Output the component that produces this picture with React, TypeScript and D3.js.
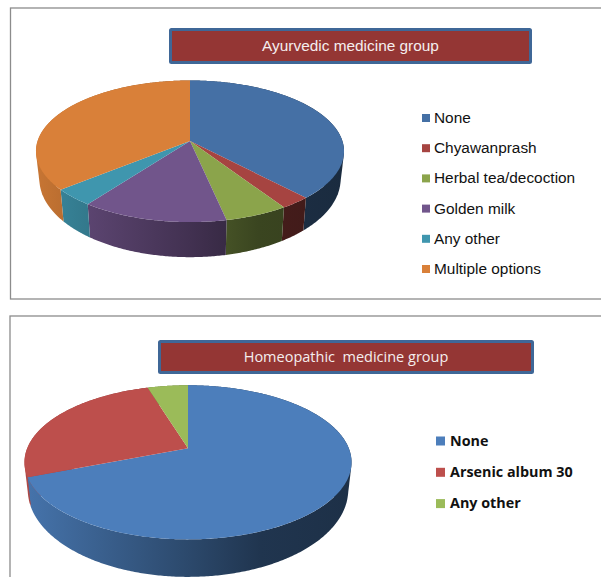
import React from "react";
import * as d3 from "d3";

// Ayurvedic pie
const ayurCategories = ["None", "Chyawanprash", "Herbal tea/decoction", "Golden milk", "Any other", "Multiple options"];
const ayurValues = [38.1, 2.8, 5.8, 13.4, 3.9, 36.0];
const ayurColors = ["#4570a5", "#a64441", "#8ba44b", "#71558b", "#3f96ae", "#d98039"];

// Homeopathic pie
const homeoCategories = ["None", "Arsenic album 30", "Any other"];
const homeoValues = [69.1, 26.15, 4.75];
const homeoColors = ["#4c7ebb", "#bd4f4c", "#9bbb59"];

const ayurTitle = "Ayurvedic medicine group";
const homeoTitle = "Homeopathic  medicine group";

// Wall shading: brightness multiplier from the left to the right of the pie.
const wallShade: [number, number][] = [[0, 0.92], [0.5, 0.58], [0.72, 0.42], [1, 0.38]];

interface Disc { cx: number; cy: number; a: number; b: number; k: number }

// Perspective projection of a unit circle: angle runs clockwise from twelve o'clock.
function project(d: Disc, angle: number): [number, number] {
  const X = Math.sin(angle);
  const Y = -Math.cos(angle);
  const w = 1 - d.k * Y;
  return [d.cx + (d.a * X) / w, d.cy + (d.b * Y) / w];
}

function rim(d: Disc, a0: number, a1: number): [number, number][] {
  const n = Math.max(2, Math.ceil(Math.abs(a1 - a0) / 0.01));
  return d3.range(n + 1).map((i) => project(d, a0 + ((a1 - a0) * i) / n));
}

function scaleColor(c: string, f: number): string {
  const r = d3.rgb(c);
  return d3.rgb(r.r * f, r.g * f, r.b * f).formatHex();
}

const closedLine = d3.line();

// Rim angles that bound the front of the wall; beyond them the wall is only
// seen as the outer silhouette at the pie's left and right ends.
const frontStart = (110 * Math.PI) / 180;
const frontEnd = (250 * Math.PI) / 180;

function wallArcs(a0: number, a1: number): [number, number][] {
  const cuts = [frontStart, frontEnd].filter((c) => c > a0 && c < a1);
  return d3.pairs([a0, ...cuts, a1]);
}

function isSideArc(a0: number, a1: number): boolean {
  return a1 <= frontStart + 1e-6 || a0 >= frontEnd - 1e-6;
}

function Pie3D(props: { id: string; values: number[]; colors: string[]; top: Disc; bottom: Disc }) {
  const { id, values, colors, top, bottom } = props;
  const slices = d3.pie<number>().sort(null)(values);
  const left = top.cx - top.a * 1.02;
  const right = top.cx + top.a * 1.02;
  const pieces = slices.flatMap((s, i) => wallArcs(s.startAngle, s.endAngle).map(([a0, a1]) => ({ i, a0, a1 })));
  const sides = pieces.filter((p) => isSideArc(p.a0, p.a1));
  const fronts = pieces.filter((p) => !isSideArc(p.a0, p.a1));
  return (
    <g>
      <defs>
        {colors.map((c, i) => (
          <linearGradient key={i} id={`${id}-wall-${i}`} gradientUnits="userSpaceOnUse" x1={left} x2={right} y1={0} y2={0}>
            {wallShade.map(([o, f]) => (
              <stop key={o} offset={o} stopColor={scaleColor(c, f)} />
            ))}
          </linearGradient>
        ))}
      </defs>
      {sides.map((p) => {
        const hull = d3.polygonHull([...rim(top, p.a0, p.a1), ...rim(bottom, p.a0, p.a1)])!;
        return <path key={`s${p.i}-${p.a0}`} d={closedLine(hull) + "Z"} fill={`url(#${id}-wall-${p.i})`} />;
      })}
      {fronts.map((p) => {
        const outline = [...rim(top, p.a0, p.a1), ...rim(bottom, p.a0, p.a1).reverse()];
        return <path key={`f${p.i}-${p.a0}`} d={closedLine(outline) + "Z"} fill={`url(#${id}-wall-${p.i})`} />;
      })}
      {slices.map((s, i) => {
        const t = rim(top, s.startAngle, s.endAngle);
        const apex: [number, number] = [top.cx, top.cy];
        return <path key={i} d={closedLine([apex, ...t]) + "Z"} fill={colors[i]} />;
      })}
    </g>
  );
}

function TitleBox(props: { x: number; y: number; w: number; h: number; text: string; font: string; size: number; dx?: number }) {
  const { x, y, w, h, text, font, size, dx = 0 } = props;
  return (
    <g>
      <rect x={x + 1.5} y={y + 1.5} width={w - 3} height={h - 3} rx={1} fill="#943634" stroke="#3f6797" strokeWidth={3} />
      <text x={x + w / 2 + dx} y={y + h / 2 + 5} textAnchor="middle" fill="#f4eeee" fontFamily={font} fontSize={size} style={{ whiteSpace: "pre" }}>
        {text}
      </text>
    </g>
  );
}

function Legend(props: { x: number; y: number; step: number; names: string[]; colors: string[]; font: string; size: number; weight: number; swatch: number; gap: number }) {
  const { x, y, step, names, colors, font, size, weight, swatch, gap } = props;
  const pos = d3.scalePoint<string>().domain(names).range([y, y + step * (names.length - 1)]);
  return (
    <g>
      {names.map((n, i) => (
        <g key={n}>
          <rect x={x} y={pos(n)! - swatch / 2} width={swatch} height={swatch} fill={colors[i]} />
          <text x={x + swatch + gap} y={pos(n)! + size * 0.33} fontFamily={font} fontSize={size} fontWeight={weight} fill="#111">
            {n}
          </text>
        </g>
      ))}
    </g>
  );
}

const ayurTop: Disc = { cx: 190, cy: 141, a: 152.4, b: 69.3, k: 0.145 };
const ayurBottom: Disc = { cx: 190, cy: 167.8, a: 149, b: 76.4, k: 0.145 };
const homeoTop: Disc = { cx: 188, cy: 448.3, a: 160.8, b: 74.5, k: 0.182 };
const homeoBottom: Disc = { cx: 188, cy: 474.2, a: 157.5, b: 84, k: 0.182 };

export default function App() {
  return (
    <svg width={601} height={577} style={{ position: "absolute", left: 0, top: 0, display: "block" }}>
      <rect width={601} height={577} fill="#fff" />
      <rect x={10.5} y={8} width={600} height={291} fill="#fff" stroke="#8c8c8c" strokeWidth={1.3} />
      <rect x={10} y={316} width={600} height={280} fill="#fff" stroke="#8c8c8c" strokeWidth={1.3} />

      <TitleBox x={169} y={28} w={363} h={36} text={ayurTitle} font="'Liberation Sans', Arial, sans-serif" size={15.4} />
      <Pie3D id="ayur" values={ayurValues} colors={ayurColors} top={ayurTop} bottom={ayurBottom} />
      <Legend x={422} y={118} step={30.2} names={ayurCategories} colors={ayurColors} font="'Liberation Sans', Arial, sans-serif" size={15.4} weight={400} swatch={8} gap={4} />

      <TitleBox x={158} y={340} w={376} h={34} text={homeoTitle} font="'Open Sans', sans-serif" size={14.5} />
      <Pie3D id="homeo" values={homeoValues} colors={homeoColors} top={homeoTop} bottom={homeoBottom} />
      <Legend x={436} y={441} step={31.3} names={homeoCategories} colors={homeoColors} font="'Open Sans', sans-serif" size={14.35} weight={700} swatch={9} gap={5} />
    </svg>
  );
}
